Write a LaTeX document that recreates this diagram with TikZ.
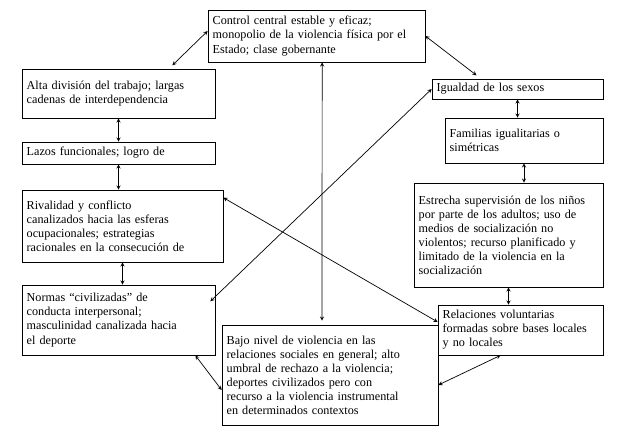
\documentclass[tikz,border=0pt]{standalone}
\usepackage{fontspec}
\setmainfont{Liberation Serif}
\usetikzlibrary{positioning}

\begin{document}
\begin{tikzpicture}[x=0.03cm,y=-0.03cm,<->,>=stealth,semithick,
    box/.style={draw,align=left,inner xsep=4pt,inner ysep=1pt,font=\fontsize{10.4}{12}\selectfont}]

    \useasboundingbox (0,0) rectangle (626,433);

    \node[box, text width=6.51cm-8pt, minimum height=1.56cm] (ctrl) at (316.5,36) {Control central estable y eficaz;\\ monopolio de la violencia física por el\\ Estado; clase gobernante};
    \node[box, text width=5.79cm-8pt, minimum height=1.47cm] (alta) at (118.5,93.5) {Alta división del trabajo; largas\\ cadenas de interdependencia};
    \node[box, text width=5.79cm-8pt, minimum height=0.66cm] (lazos) at (118.5,153) {Lazos funcionales; logro de};
    \node[box, text width=6.03cm-8pt, minimum height=2.16cm] (riv) at (122.5,226) {Rivalidad y conflicto\\ canalizados hacia las esferas\\ ocupacionales; estrategias\\ racionales en la consecución de};
    \node[box, text width=5.79cm-8pt, minimum height=2.1cm] (normas) at (118.5,320) {Normas “civilizadas” de\\ conducta interpersonal;\\ masculinidad canalizada hacia\\ el deporte};
    \node[box, text width=6.48cm-8pt, minimum height=3.0cm] (bajo) at (330,375) {Bajo nivel de violencia en las\\ relaciones sociales en general; alto\\ umbral de rechazo a la violencia;\\ deportes civilizados pero con\\ recurso a la violencia instrumental\\ en determinados contextos};
    \node[box, text width=5.13cm-8pt, minimum height=0.6cm] (igual) at (517.5,89) {Igualdad de los sexos};
    \node[box, text width=4.74cm-8pt, minimum height=1.35cm] (fam) at (524,140.5) {Familias igualitarias o\\ simétricas};
    \node[box, text width=5.67cm-8pt, minimum height=3.12cm] (estr) at (508.5,235) {Estrecha supervisión de los niños\\ por parte de los adultos; uso de\\ medios de socialización no\\ violentos; recurso planificado y\\ limitado de la violencia en la\\ socialización};
    \node[box, text width=4.95cm-8pt, minimum height=1.5cm] (rel) at (520.5,330) {Relaciones voluntarias\\ formadas sobre bases locales\\ y no locales};

    \draw ([yshift=0.15cm]ctrl.west) -- ([xshift=-1.29cm,yshift=0.1cm]alta.north east);
    \draw (ctrl.east) -- ([xshift=-1.23cm,yshift=0.1cm]igual.north);
    \draw ([xshift=0.17cm]ctrl.south) -- ([xshift=-0.24cm,yshift=0.12cm]bajo.north);
    \draw (alta.south) -- (lazos.north);
    \draw (lazos.south) -- (lazos.south |- riv.north);
    \draw (riv.south) -- (riv.south |- normas.north);
    \draw (igual.south) -- (igual.south |- fam.north);
    \draw (fam.south) -- (fam.south |- estr.north);
    \draw (estr.south) -- (estr.south |- rel.north);
    \draw ([xshift=-0.15cm,yshift=-0.5cm]normas.north east) -- (igual.west);
    \draw ([yshift=-0.24cm]riv.north east) -- ([yshift=0.24cm]rel.west);
    \draw ([xshift=-0.6cm]normas.south east) -- ([yshift=-0.45cm]bajo.west);
    \draw ([yshift=-0.3cm]bajo.east) -- ([xshift=-0.6cm]rel.south);
\end{tikzpicture}
\end{document}
